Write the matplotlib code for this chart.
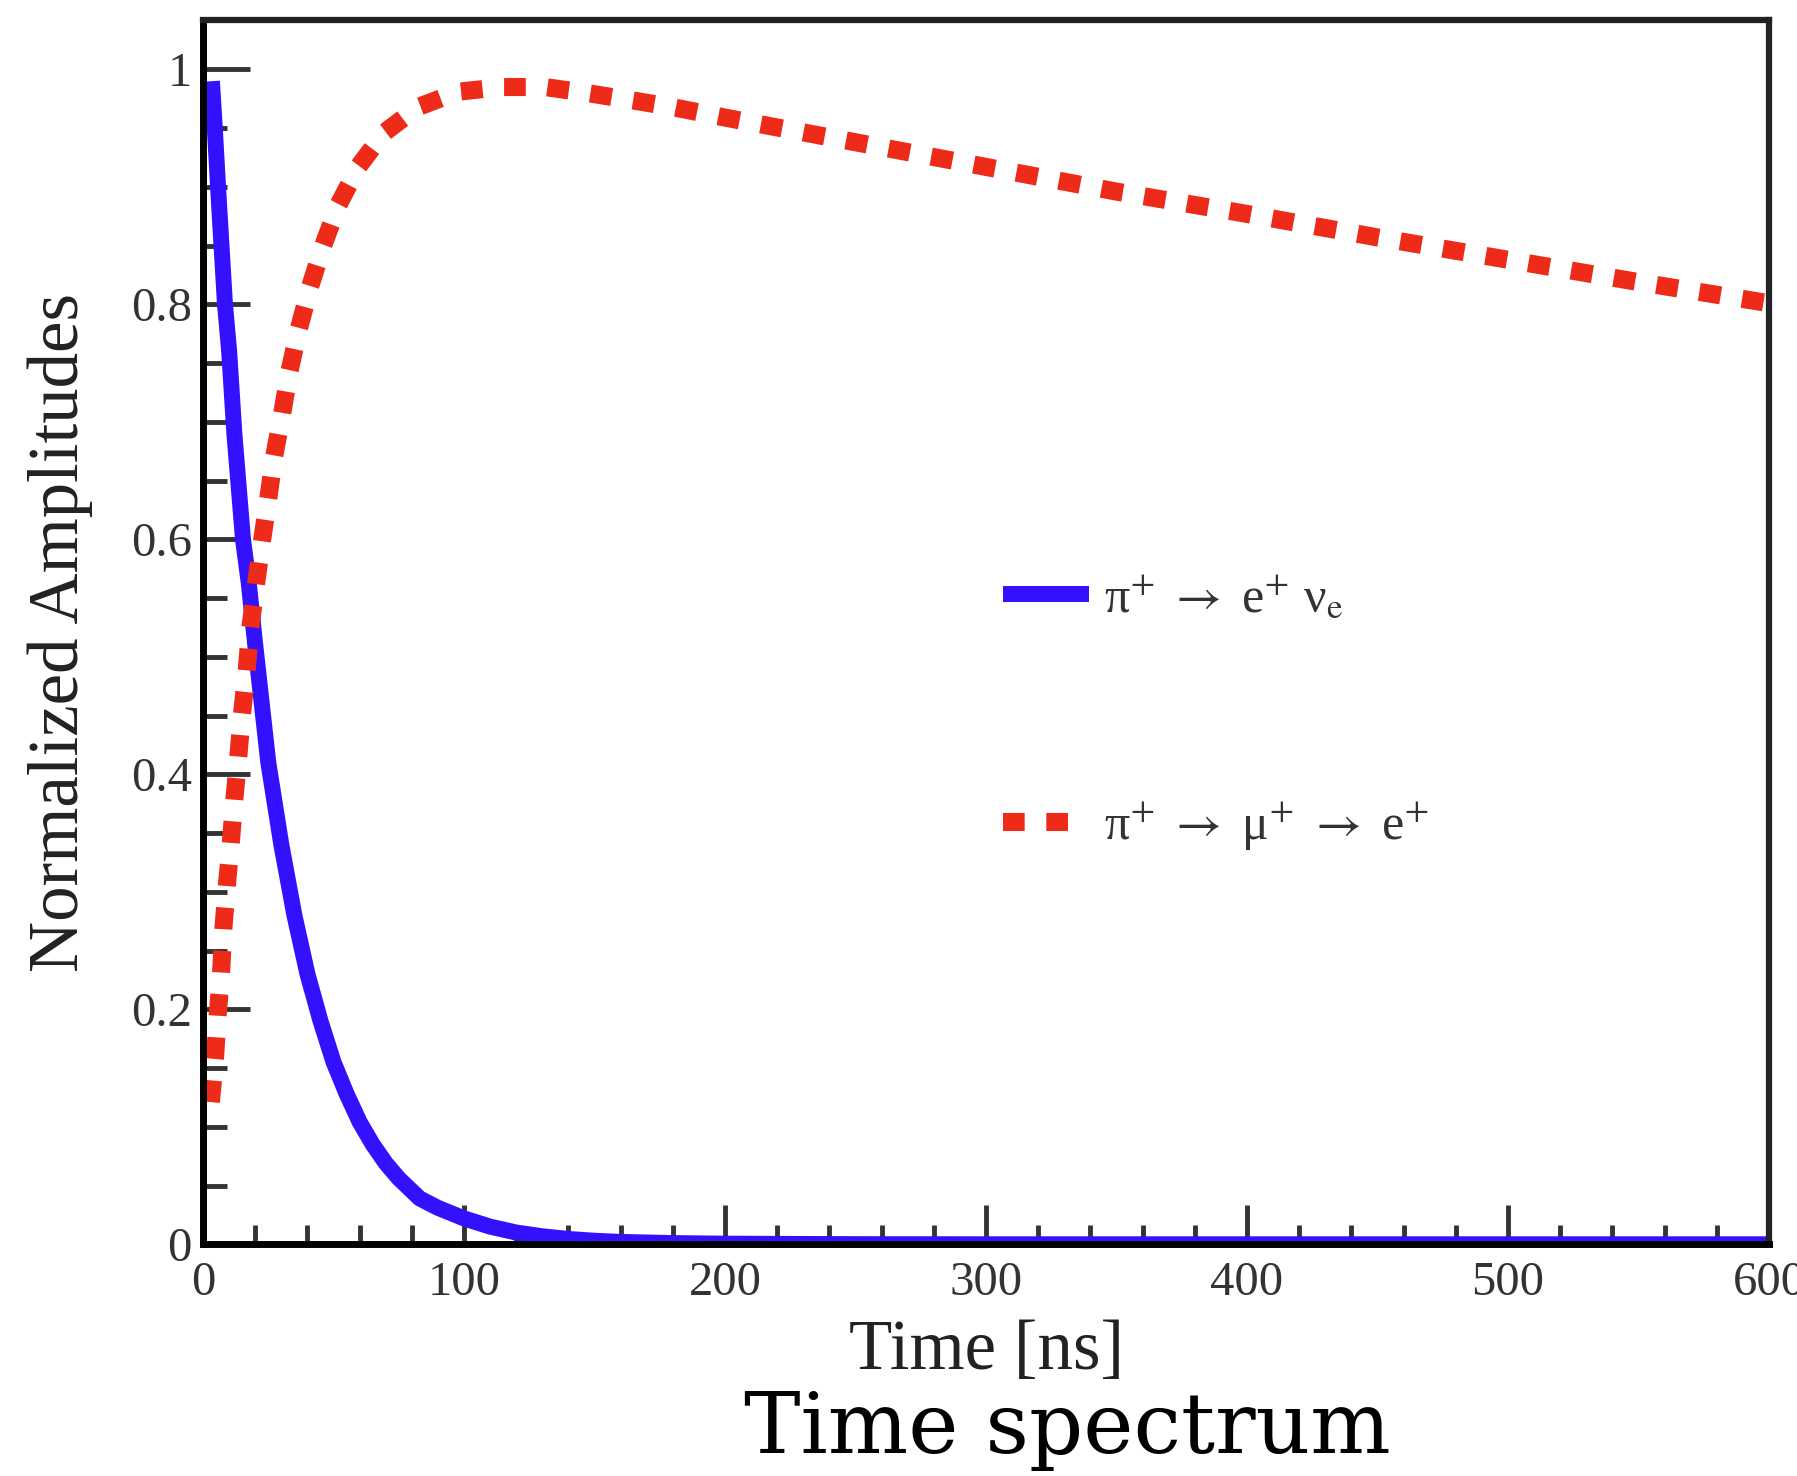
import matplotlib.pyplot as plt
from matplotlib.ticker import FixedLocator, MultipleLocator

# pi+ -> e+ nu_e
t_pi_e = [3.4, 4.5, 6, 8.4, 10, 12, 15.3, 17.5, 20, 22.5, 25, 30, 35, 40, 45,
          50, 55, 60, 65, 70, 75, 83, 90, 100, 110, 120, 130, 140, 150, 160,
          180, 200, 250, 300, 400, 500, 600]
amp_pi_e = [0.99, 0.95, 0.89, 0.80, 0.76, 0.69, 0.60, 0.563, 0.51, 0.46, 0.41,
            0.34, 0.28, 0.23, 0.19, 0.155, 0.128, 0.104, 0.085, 0.069, 0.056,
            0.039, 0.031, 0.022, 0.015, 0.010, 0.0068, 0.0045, 0.003, 0.002,
            0.001, 0.0005, 0.0001, 0.0, 0.0, 0.0, 0.0]

# pi+ -> mu+ -> e+
t_pi_mu_e = [3.0, 4.6, 5.6, 6.9, 7.8, 9.1, 10.6, 12, 13.5, 14.9, 16.7, 18,
             20.3, 22.6, 25, 27.2, 30.3, 33, 36.8, 41, 46, 51.7, 59.4, 69.3,
             82.4, 97.7, 114.6, 131, 147, 163.6, 179.7, 200, 250, 300, 350,
             400, 450, 500, 550, 600]
amp_pi_mu_e = [0.121, 0.159, 0.195, 0.231, 0.269, 0.305, 0.341, 0.379, 0.415,
               0.451, 0.488, 0.523, 0.562, 0.599, 0.635, 0.67, 0.707, 0.742,
               0.78, 0.815, 0.85, 0.884, 0.917, 0.946, 0.968, 0.981, 0.985,
               0.985, 0.98, 0.974, 0.968, 0.959, 0.938, 0.917, 0.896, 0.877,
               0.857, 0.838, 0.819, 0.801]

x_ticks = [0, 100, 200, 300, 400, 500, 600]
y_ticks = [0, 0.2, 0.4, 0.6, 0.8, 1.0]
y_tick_labels = ['0', '0.2', '0.4', '0.6', '0.8', '1']
series_labels = ['π$^{+}$ $\\rightarrow$ e$^{+}$ ν$_{\\mathrm{e}}$',
                 'π$^{+}$ $\\rightarrow$ μ$^{+}$ $\\rightarrow$ e$^{+}$']

plt.rcParams['font.family'] = ['Liberation Serif', 'DejaVu Serif']
plt.rcParams['mathtext.fontset'] = 'stix'

fig = plt.figure(figsize=(17.97, 14.76), dpi=100)
ax = fig.add_axes([0.113, 0.157, 0.8714, 0.8294])

ax.plot(t_pi_e, amp_pi_e, color='#3311ff', lw=11.5, solid_capstyle='butt',
        solid_joinstyle='round', label=series_labels[0])
ax.plot(t_pi_mu_e, amp_pi_mu_e, color='#ee2a18', lw=13,
        linestyle=(0, (1.2, 1.2)), dash_capstyle='butt',
        label=series_labels[1])

ax.set_xlim(0, 600)
ax.set_ylim(0, 1.042)

ax.xaxis.set_major_locator(FixedLocator(x_ticks))
ax.xaxis.set_minor_locator(MultipleLocator(20))
ax.yaxis.set_major_locator(FixedLocator(y_ticks))
ax.yaxis.set_minor_locator(MultipleLocator(0.05))
ax.set_xticklabels([str(v) for v in x_ticks])
ax.set_yticklabels(y_tick_labels)

ax.tick_params(which='both', direction='in', colors='#333333', width=3.5)
ax.tick_params(which='major', labelsize=35, labelcolor='#333333')
ax.tick_params(axis='y', which='major', length=34, pad=8)
ax.tick_params(axis='y', which='minor', length=17)
ax.tick_params(axis='x', which='major', length=28, pad=12)
ax.tick_params(axis='x', which='minor', length=14)

for side in ['left', 'bottom']:
    ax.spines[side].set_linewidth(5)
    ax.spines[side].set_color('black')
for side in ['top', 'right']:
    ax.spines[side].set_linewidth(4.5)
    ax.spines[side].set_color('#222222')

ax.set_xlabel('Time [ns]', fontsize=51, color='#222222', labelpad=10)
ax.set_ylabel('Normalized Amplitudes', fontsize=51, color='#222222', labelpad=27)

ax.legend(loc='upper left', bbox_to_anchor=(0.511, 0.546), frameon=False,
          fontsize=36, borderpad=0, borderaxespad=0, handlelength=1.72,
          handletextpad=0.3, labelspacing=3.55, labelcolor='#333333')

fig.text(0.594, 0.0156, 'Time spectrum', fontsize=61, family='DejaVu Serif',
         ha='center', va='baseline', color='black')

fig.savefig('out.png', dpi=100)
